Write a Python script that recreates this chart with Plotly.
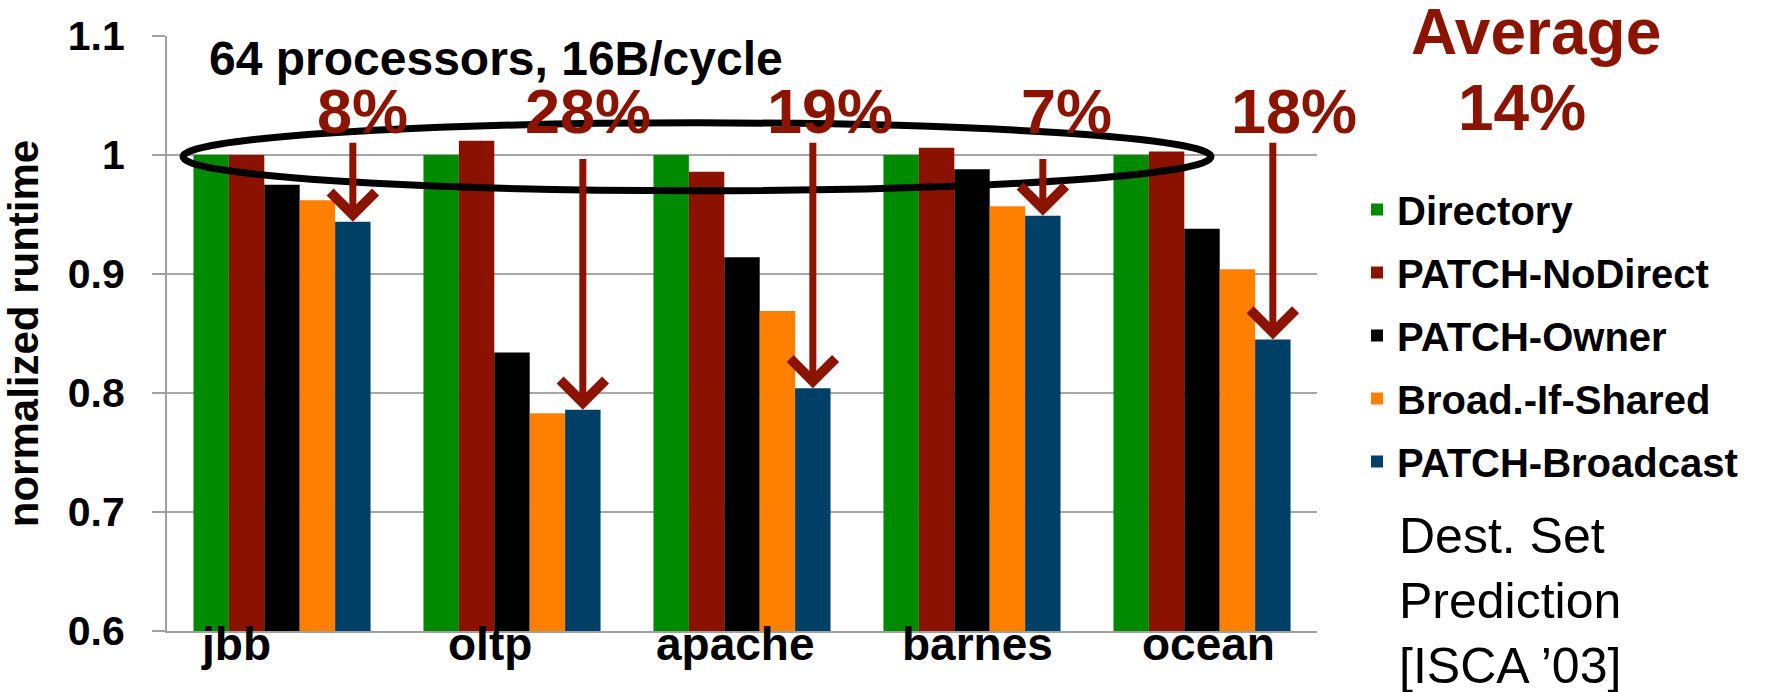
import plotly.graph_objects as go

# ---- data ----
benchmarks = ["jbb", "oltp", "apache", "barnes", "ocean"]
directory = [1.000, 1.000, 1.000, 1.000, 1.000]
patch_nodirect = [1.000, 1.012, 0.986, 1.006, 1.003]
patch_owner = [0.975, 0.834, 0.914, 0.988, 0.938]
broad_if_shared = [0.962, 0.783, 0.869, 0.957, 0.904]
patch_broadcast = [0.944, 0.786, 0.804, 0.949, 0.845]
improvement_labels = ["8%", "28%", "19%", "7%", "18%"]
series_names = ["Directory", "PATCH-NoDirect", "PATCH-Owner", "Broad.-If-Shared", "PATCH-Broadcast"]
y_ticks = [0.6, 0.7, 0.8, 0.9, 1.0, 1.1]

# ---- style ----
colors = ["#008A00", "#8B1200", "#000000", "#FF8000", "#003F66"]
DARKRED = "#8B1400"
FONT = "Liberation Sans, Arial, sans-serif"
W, H = 1773, 692
L, R, T, B = 167, 1773 - 1317, 36, 692 - 631
PW, PH = W - L - R, H - T - B
BARGAP = 0.23
label_xshift = [80, 76, 88, 94, 92]
category_label_xshift = [-46, -22, -7, 5, 6]
arrow_tail_y = [1.0115, 0.998, 1.0115, 0.998, 1.0115]


def px_x(px):
    return (px - L) / PW


def px_y(py):
    return (H - B - py) / PH


fig = go.Figure()
for name, vals, c in zip(series_names,
                         [directory, patch_nodirect, patch_owner, broad_if_shared, patch_broadcast],
                         colors):
    fig.add_trace(go.Bar(name=name, x=benchmarks, y=vals, marker_color=c,
                         marker_line_width=0, legendgroup=name))

annotations = []
# category labels under the axis (positioned through the x axis scale)
for i, cat in enumerate(benchmarks):
    annotations.append(dict(text=cat, xref="x", yref="paper", x=cat, y=px_y(644),
                            xshift=category_label_xshift[i], xanchor="center", yanchor="middle",
                            showarrow=False,
                            font=dict(family=FONT, size=46, color="black", weight="bold")))
annotations.append(dict(text="64 processors, 16B/cycle", xref="paper", yref="paper",
                        x=px_x(207), y=px_y(59), xanchor="left", yanchor="middle",
                        showarrow=False,
                        font=dict(family=FONT, size=48, color="black", weight="bold")))
nser = len(series_names)
bw = (1 - BARGAP) / nser
off = bw * (nser - 1) / 2
for i, (lab, v) in enumerate(zip(improvement_labels, patch_broadcast)):
    annotations.append(dict(text=lab, xref="x", yref="y", x=i, y=1.037,
                            xshift=label_xshift[i], xanchor="center", yanchor="middle",
                            showarrow=False,
                            font=dict(family=FONT, size=63, color=DARKRED, weight="bold")))
    annotations.append(dict(text="", xref="x", yref="y", x=i + off, y=v,
                            axref="x", ayref="y", ax=i + off, ay=arrow_tail_y[i],
                            showarrow=True, arrowhead=4, arrowsize=1.25, arrowwidth=7,
                            arrowcolor=DARKRED, standoff=0, font=dict(size=1)))
annotations.append(dict(text="Average", xref="paper", yref="paper",
                        x=px_x(1536), y=px_y(32), xanchor="center", yanchor="middle",
                        showarrow=False,
                        font=dict(family=FONT, size=64, color=DARKRED, weight="bold")))
annotations.append(dict(text="14%", xref="paper", yref="paper",
                        x=px_x(1522), y=px_y(108), xanchor="center", yanchor="middle",
                        showarrow=False,
                        font=dict(family=FONT, size=64, color=DARKRED, weight="bold")))
annotations.append(dict(text="Dest. Set<br>Prediction<br>[ISCA \u201903]", xref="paper", yref="paper",
                        x=px_x(1397), y=px_y(506), xanchor="left", yanchor="top",
                        align="left", showarrow=False,
                        font=dict(family=FONT, size=50, color="black")))

shapes = [dict(type="circle", xref="paper", yref="y",
               x0=px_x(183), x1=px_x(1211), y0=0.970, y1=1.027,
               line=dict(color="black", width=7), layer="above")]

fig.update_layout(
    width=W, height=H,
    margin=dict(l=L, r=R, t=T, b=B, autoexpand=False),
    paper_bgcolor="white", plot_bgcolor="white",
    barmode="group", bargap=BARGAP, bargroupgap=0,
    showlegend=True,
    legend=dict(x=px_x(1357), y=px_y(177), xanchor="left", yanchor="top",
                font=dict(family=FONT, size=40, color="black", weight="bold"),
                bgcolor="rgba(0,0,0,0)", tracegroupgap=8, traceorder="grouped"),
    annotations=annotations,
    shapes=shapes,
    xaxis=dict(type="category", range=[-0.5, len(benchmarks) - 0.5], autorange=False,
               showline=True, linecolor="#A0A0A0", linewidth=2,
               showgrid=False, ticks="", automargin=False, showticklabels=False),
    yaxis=dict(range=[0.6, 1.1], autorange=False, tickvals=y_ticks,
               ticktext=[f"{t:g}" for t in y_ticks],
               showgrid=True, gridcolor="#A6A6A6", gridwidth=2,
               showline=True, linecolor="#A0A0A0", linewidth=2, zeroline=False,
               ticks="outside", ticklen=13, tickwidth=2, tickcolor="#A0A0A0",
               automargin=False, ticklabelstandoff=19,
               tickfont=dict(family=FONT, size=41, color="black", weight="bold"),
               title=dict(text="normalized runtime", standoff=16,
                          font=dict(family=FONT, size=42, color="black", weight="bold"))),
)

fig.write_html("out.html", config={"displayModeBar": False},
               post_script=["document.body.style.margin='0px';"])
